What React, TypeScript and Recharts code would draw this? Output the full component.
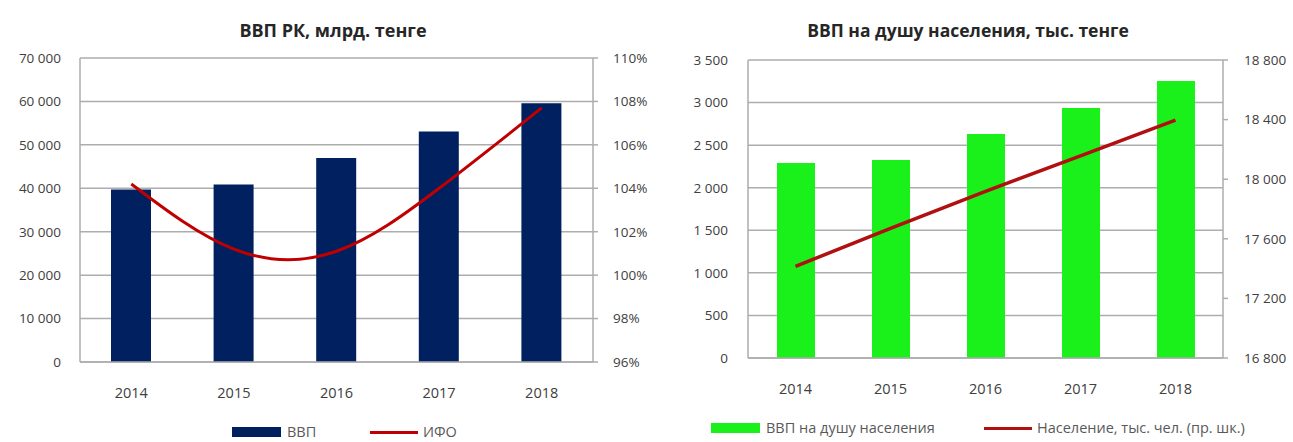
import { ComposedChart, Bar, Line, XAxis, YAxis, CartesianGrid, Legend } from 'recharts';

const years = ['2014', '2015', '2016', '2017', '2018'];
const gdp = [39700, 40900, 47000, 53100, 59600];
const ifo = [104.2, 101.2, 101.1, 104.0, 107.7];
const gdpPerCapita = [2290, 2325, 2631, 2936, 3253];
const population = [17415, 17670, 17918, 18157, 18396];

const gdpTicks = [0, 10000, 20000, 30000, 40000, 50000, 60000, 70000];
const ifoTicks = [96, 98, 100, 102, 104, 106, 108, 110];
const perCapitaTicks = [0, 500, 1000, 1500, 2000, 2500, 3000, 3500];
const populationTicks = [16800, 17200, 17600, 18000, 18400, 18800];

const leftData = years.map((year, i) => ({ year, gdp: gdp[i], ifo: ifo[i] }));
const rightData = years.map((year, i) => ({ year, perCapita: gdpPerCapita[i], population: population[i] }));

const FONT = "'Open Sans', sans-serif";
const GRID = '#ADADAD';
const TICK = { fontSize: 13.5, fill: '#404040', fontFamily: FONT };
const XTICK = { fontSize: 14.5, fill: '#404040', fontFamily: FONT };

// thousands with a space, like "70 000"
const fmt = (v: number) => String(v).replace(/\B(?=(\d{3})+(?!\d))/g, ' ');

const titleStyle = (center: number, size: number): React.CSSProperties => ({
  position: 'absolute',
  top: 19,
  left: center - 250,
  width: 500,
  textAlign: 'center',
  fontFamily: FONT,
  fontWeight: 700,
  fontSize: size,
  color: '#262626',
  lineHeight: '22px',
});

type LegendItem = { label: string; color: string; kind: 'rect' | 'line'; x: number };

function makeLegend(items: LegendItem[], top: number) {
  return () => (
    <div style={{ position: 'relative', height: 20, fontFamily: FONT, fontSize: 14.5, color: '#595959' }}>
      {items.map((it) => (
        <div key={it.label} style={{ position: 'absolute', left: it.x, top, display: 'flex', alignItems: 'center', whiteSpace: 'nowrap' }}>
          {it.kind === 'rect' ? (
            <span style={{ display: 'inline-block', width: 49, height: 10, background: it.color, marginRight: 6 }} />
          ) : (
            <span style={{ display: 'inline-block', width: 48, height: 3, background: it.color, marginRight: 5 }} />
          )}
          <span style={{ lineHeight: '16px' }}>{it.label}</span>
        </div>
      ))}
    </div>
  );
}

// left legend hugs the bottom edge of the picture
const leftLegend = makeLegend(
  [
    { label: 'ВВП', color: '#002060', kind: 'rect', x: 232 },
    { label: 'ИФО', color: '#C00000', kind: 'line', x: 370 },
  ],
  2
);

const rightLegend = makeLegend(
  [
    { label: 'ВВП на душу населения', color: '#1AF01A', kind: 'rect', x: 51 },
    { label: 'Население, тыс. чел. (пр. шк.)', color: '#B01010', kind: 'line', x: 324 },
  ],
  -2
);

export default function App() {
  return (
    <div style={{ position: 'absolute', left: 0, top: 0, width: 1293, height: 442, background: '#fff', overflow: 'hidden' }}>
      <div style={titleStyle(333, 18)}>ВВП РК, млрд. тенге</div>
      <div style={titleStyle(968, 17.5)}>ВВП на душу населения, тыс. тенге</div>

      <div style={{ position: 'absolute', left: 0, top: 0 }}>
        <ComposedChart width={660} height={442} data={leftData} margin={{ top: 58, right: 0, bottom: 0, left: 0 }}>
          <CartesianGrid yAxisId="left" vertical={false} stroke={GRID} strokeWidth={1.5} />
          <XAxis dataKey="year" tick={XTICK} tickLine={false} tickSize={0} tickMargin={26} height={60} axisLine={{ stroke: GRID, strokeWidth: 1.5 }} />
          <YAxis
            yAxisId="left"
            width={80}
            domain={[0, 70000]}
            ticks={gdpTicks}
            tickFormatter={fmt}
            tick={TICK}
            tickLine={false}
            tickSize={0}
            tickMargin={19}
            axisLine={{ stroke: GRID, strokeWidth: 1.5 }}
            interval={0}
          />
          <YAxis
            yAxisId="right"
            orientation="right"
            width={67}
            domain={[96, 110]}
            ticks={ifoTicks}
            tickFormatter={(v: number) => `${v}%`}
            tick={TICK}
            tickLine={{ stroke: GRID, strokeWidth: 1.5 }}
            tickSize={5}
            tickMargin={15}
            axisLine={{ stroke: GRID, strokeWidth: 1.5 }}
            interval={0}
          />
          <Legend verticalAlign="bottom" height={20} content={leftLegend} />
          <Bar yAxisId="left" dataKey="gdp" name="ВВП" fill="#002060" barSize={40} isAnimationActive={false} />
          <Line yAxisId="right" dataKey="ifo" name="ИФО" type="natural" stroke="#C00000" strokeWidth={3} dot={false} isAnimationActive={false} />
        </ComposedChart>
      </div>

      <div style={{ position: 'absolute', left: 660, top: 0 }}>
        <ComposedChart width={633} height={442} data={rightData} margin={{ top: 60, right: 0, bottom: 0, left: 0 }}>
          <CartesianGrid yAxisId="left" vertical={false} stroke={GRID} strokeWidth={1.5} />
          <XAxis dataKey="year" tick={XTICK} tickLine={false} tickSize={0} tickMargin={26} height={64} axisLine={{ stroke: GRID, strokeWidth: 1.5 }} />
          <YAxis
            yAxisId="left"
            width={88}
            domain={[0, 3500]}
            ticks={perCapitaTicks}
            tickFormatter={fmt}
            tick={TICK}
            tickLine={false}
            tickSize={0}
            tickMargin={20}
            axisLine={{ stroke: GRID, strokeWidth: 1.5 }}
            interval={0}
          />
          <YAxis
            yAxisId="right"
            orientation="right"
            width={70}
            domain={[16800, 18800]}
            ticks={populationTicks}
            tickFormatter={fmt}
            tick={TICK}
            tickLine={{ stroke: GRID, strokeWidth: 1.5 }}
            tickSize={5}
            tickMargin={16}
            axisLine={{ stroke: GRID, strokeWidth: 1.5 }}
            interval={0}
          />
          <Legend verticalAlign="bottom" height={20} content={rightLegend} />
          <Bar yAxisId="left" dataKey="perCapita" name="ВВП на душу населения" fill="#1AF01A" barSize={38} isAnimationActive={false} />
          <Line yAxisId="right" dataKey="population" name="Население, тыс. чел. (пр. шк.)" type="linear" stroke="#B01010" strokeWidth={3.5} dot={false} isAnimationActive={false} />
        </ComposedChart>
      </div>
    </div>
  );
}
